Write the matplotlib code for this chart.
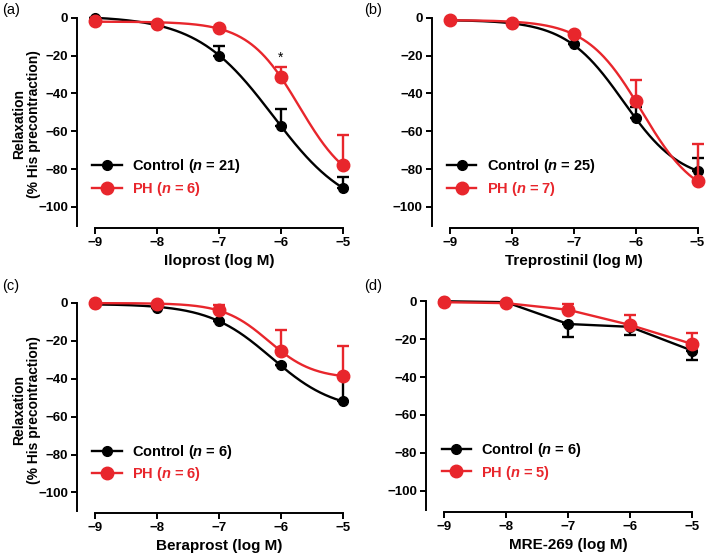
import numpy as np
import matplotlib
matplotlib.use("Agg")
import matplotlib.pyplot as plt
from matplotlib.lines import Line2D

plt.rcParams['font.family'] = ['Liberation Sans', 'DejaVu Sans']
plt.rcParams['font.weight'] = 'bold'
plt.rcParams['axes.labelweight'] = 'bold'
plt.rcParams['mathtext.fontset'] = 'custom'
plt.rcParams['mathtext.rm'] = 'Liberation Sans:bold'
plt.rcParams['mathtext.it'] = 'Liberation Sans:bold:italic'

RED = '#e8262c'
BLACK = '#000000'

log_conc = np.array([-9, -8, -7, -6, -5])

# (a) Iloprost
ilo_ctrl = [0.0, -3.7, -20.0, -57.0, -90.0]
ilo_ctrl_err = [0.0, 0.0, 5.0, 9.0, 6.0]
ilo_ph = [-1.5, -3.0, -5.5, -31.5, -78.0]
ilo_ph_err = [0.0, 0.0, 0.0, 5.5, 16.0]

# (b) Treprostinil
tre_ctrl = [-1.0, -3.5, -14.0, -53.0, -81.0]
tre_ctrl_err = [0.0, 0.0, 0.0, 6.0, 7.0]
tre_ph = [-1.0, -2.5, -8.5, -44.0, -86.5]
tre_ph_err = [0.0, 0.0, 0.0, 11.0, 20.0]

# (c) Beraprost
ber_ctrl = [-0.5, -2.5, -9.5, -33.0, -52.0]
ber_ctrl_err = [0.0, 0.0, 0.0, 0.0, 13.0]
ber_ph = [0.0, -0.5, -4.0, -25.5, -38.5]
ber_ph_err = [0.0, 0.0, 3.0, 11.0, 16.0]

# (d) MRE-269
mre_ctrl = [0.0, -0.5, -12.0, -13.5, -26.0]
mre_ctrl_err = [0.0, 0.0, 7.0, 4.5, 5.0]
mre_ph = [-0.5, -1.0, -4.5, -12.5, -22.5]
mre_ph_err = [0.0, 0.0, 3.0, 5.5, 6.0]

panels = [
    # tag, drug label, ctrl, ctrl err, ph, ph err, n ctrl, n ph, fitted curve?, ctrl err direction
    ('(a)', 'Iloprost (log M)', ilo_ctrl, ilo_ctrl_err, ilo_ph, ilo_ph_err, 21, 6, True, 'up'),
    ('(b)', 'Treprostinil (log M)', tre_ctrl, tre_ctrl_err, tre_ph, tre_ph_err, 25, 7, True, 'up'),
    ('(c)', 'Beraprost (log M)', ber_ctrl, ber_ctrl_err, ber_ph, ber_ph_err, 6, 6, True, 'up'),
    ('(d)', 'MRE-269 (log M)', mre_ctrl, mre_ctrl_err, mre_ph, mre_ph_err, 6, 5, False, 'down'),
]

rects = [
    [0.1086, 0.589, 0.3836, 0.389],
    [0.609, 0.589, 0.3836, 0.389],
    [0.1086, 0.0735, 0.3836, 0.390],
    [0.601, 0.0765, 0.3836, 0.390],
]
tag_pos = [(0.003, 0.995), (0.513, 0.995), (0.003, 0.497), (0.513, 0.497)]


def hill_fit(x, y):
    # least-squares 4-parameter logistic (grid over logEC50/slope, linear top/bottom)
    y = np.asarray(y, dtype=float)
    best = None
    for ec in np.linspace(-8.5, -4.0, 181):
        for h in np.linspace(0.3, 3.0, 109):
            s = 1.0 / (1.0 + 10 ** ((x - ec) * h))
            A = np.column_stack([s, 1 - s])
            coef, *_ = np.linalg.lstsq(A, y, rcond=None)
            r = np.sum((A @ coef - y) ** 2)
            if best is None or r < best[0]:
                best = (r, ec, h, coef)
    _, ec, h, coef = best
    return lambda t: coef[0] / (1 + 10 ** ((t - ec) * h)) + coef[1] * (1 - 1 / (1 + 10 ** ((t - ec) * h)))


fig = plt.figure(figsize=(7.09, 5.54), dpi=100)

for i, (tag, xlab, yc, ec_, yp, ep, nc, npp, fitted, cdir) in enumerate(panels):
    ax = fig.add_axes(rects[i])
    xs = np.linspace(-9, -5, 300)
    for y, e, col, ms, edir, z in [(yc, ec_, BLACK, 7, cdir, 3), (yp, ep, RED, 9, 'up', 4)]:
        y = np.asarray(y)
        e = np.asarray(e)
        if fitted:
            ax.plot(xs, hill_fit(log_conc, y)(xs), color=col, lw=1.7, zorder=z, clip_on=False)
        else:
            ax.plot(log_conc, y, color=col, lw=1.7, zorder=z, clip_on=False)
        yerr = [np.zeros_like(e), e] if edir == 'up' else [e, np.zeros_like(e)]
        ax.errorbar(log_conc, y, yerr=yerr, fmt='o', color=col, ms=ms, elinewidth=1.7,
                    capsize=4.5, capthick=1.7, zorder=z + 0.5, clip_on=False)

    ax.set_xlim(-9.29, -4.9)
    ax.set_ylim(-111, 3)
    ax.set_xticks(log_conc)
    ax.set_xticklabels([f'\u2212{abs(v)}' for v in log_conc])
    ax.set_yticks([0, -20, -40, -60, -80, -100])
    ax.set_yticklabels(['0'] + [f'\u2212{abs(v)}' for v in [20, 40, 60, 80, 100]])
    for s in ['top', 'right']:
        ax.spines[s].set_visible(False)
    ax.spines['left'].set_bounds(-110, 0)
    ax.spines['bottom'].set_bounds(-9, -5)
    for s in ['left', 'bottom']:
        ax.spines[s].set_linewidth(1.4)
    ax.tick_params(direction='out', length=4, width=1.4, labelsize=9.5, pad=2.5)
    ax.set_xlabel(xlab, fontsize=11, fontweight='bold', labelpad=3.5)
    ax.xaxis.label.set_x((-7 + 9.29) / 4.39)
    if i % 2 == 0:
        ax.set_ylabel('Relaxation\n(% His precontraction)', fontsize=10, fontweight='bold',
                      linespacing=1.05)
        ax.yaxis.set_label_coords(-0.132, 0.48)

    handles = [
        Line2D([], [], color=BLACK, lw=1.7, marker='o', ms=7),
        Line2D([], [], color=RED, lw=1.7, marker='o', ms=9),
    ]
    leg = ax.legend(handles, [f'Control ($n$ = {nc})', f'PH ($n$ = {npp})'],
                    loc='upper left', bbox_to_anchor=(0.03, 0.36), frameon=False,
                    prop={'size': 10.5, 'weight': 'bold'}, handlelength=2.0, handletextpad=0.7,
                    labelspacing=0.3, borderpad=0)
    leg.get_texts()[1].set_color(RED)

    fig.text(tag_pos[i][0], tag_pos[i][1], tag, fontsize=10.5, fontweight='normal', va='top', ha='left')

    if tag == '(a)':
        ax.text(-6, -21, '*', ha='center', va='center', fontsize=10, fontweight='normal')

fig.savefig('out.png', dpi=100)
